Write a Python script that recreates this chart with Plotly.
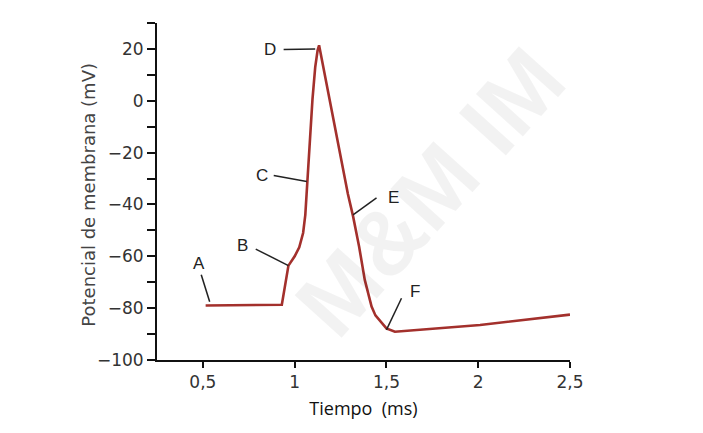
import plotly.graph_objects as go

# potencial de accion
tiempo = [0.515, 0.93, 0.966, 1.0, 1.025, 1.046, 1.058, 1.070, 1.083, 1.097, 1.112, 1.125,
          1.133, 1.29, 1.318, 1.351, 1.382, 1.419, 1.44, 1.473, 1.50, 1.546, 2.01, 2.5]
potencial = [-79, -78.7, -63.6, -60, -56.5, -51, -44, -30.4, -15, 0.5, 13, 19.5,
             21.4, -36, -44.5, -56.2, -69.1, -79.4, -82.8, -85.8, -87.8, -89.1, -86.5, -82.5]

# etiquetas A-F: posicion del texto y linea guia
letras = ['A', 'B', 'C', 'D', 'E', 'F']
letra_x = [0.479, 0.718, 0.824, 0.868, 1.537, 1.655]
letra_y = [-62.6, -55.9, -28.8, 19.8, -37.5, -73.6]
guia_x0 = [0.491, 0.788, 0.886, 0.940, 1.446, 1.582]
guia_y0 = [-67.1, -57.2, -28.8, 19.8, -37.5, -76.2]
guia_x1 = [0.537, 0.966, 1.066, 1.112, 1.318, 1.500]
guia_y1 = [-77.5, -63.6, -31.1, 20.0, -44.0, -88.4]

x_ticks = [0.5, 1, 1.5, 2, 2.5]
y_ticks = [20, 0, -20, -40, -60, -80, -100]

fig = go.Figure()

fig.add_trace(go.Scatter(x=tiempo, y=potencial, mode='lines',
                         line=dict(color='#a3302c', width=2.6), showlegend=False))

for i in range(len(letras)):
    fig.add_shape(type='line', x0=guia_x0[i], y0=guia_y0[i], x1=guia_x1[i], y1=guia_y1[i],
                  line=dict(color='#222', width=1.5))
    fig.add_annotation(x=letra_x[i], y=letra_y[i], text=letras[i], showarrow=False,
                       font=dict(family='Liberation Sans', size=17, color='#222'))

# marca de agua
fig.add_annotation(x=0.66, y=0.5, xref='paper', yref='paper', text='<b>M&M IM</b>',
                   showarrow=False, textangle=-48,
                   font=dict(family='Liberation Sans', size=92, color='rgba(0,0,0,0.05)'))

# titulo del eje y como anotacion para fijar su posicion
fig.add_annotation(x=-0.165, y=0.49, xref='paper', yref='paper',
                   text='Potencial de membrana (mV)', showarrow=False, textangle=-90,
                   xanchor='center', yanchor='middle',
                   font=dict(family='DejaVu Sans', size=18, color='#444'))

fig.update_layout(
    width=695, height=425,
    margin=dict(l=149, r=133, t=15, b=73),
    plot_bgcolor='white', paper_bgcolor='white',
    separators=',.',
    xaxis=dict(range=[0.25, 2.5], tickvals=x_ticks, showgrid=False, zeroline=False,
               showline=True, linecolor='#111', linewidth=2, ticks='outside', ticklen=6,
               tickwidth=2, tickcolor='#111',
               tickfont=dict(family='DejaVu Sans', size=17, color='#333'),
               title=dict(text='Tiempo  (ms)', standoff=11,
                          font=dict(family='Open Sans', size=18, color='#111'))),
    yaxis=dict(range=[-100, 30], tickvals=y_ticks, showgrid=False, zeroline=False,
               showline=True, linecolor='#111', linewidth=2, ticks='outside', ticklen=8,
               tickwidth=2, tickcolor='#111',
               minor=dict(dtick=10, ticks='outside', ticklen=8, tickwidth=2, tickcolor='#111'),
               tickfont=dict(family='DejaVu Sans', size=17, color='#333')),
)

fig.write_html("out.html")
